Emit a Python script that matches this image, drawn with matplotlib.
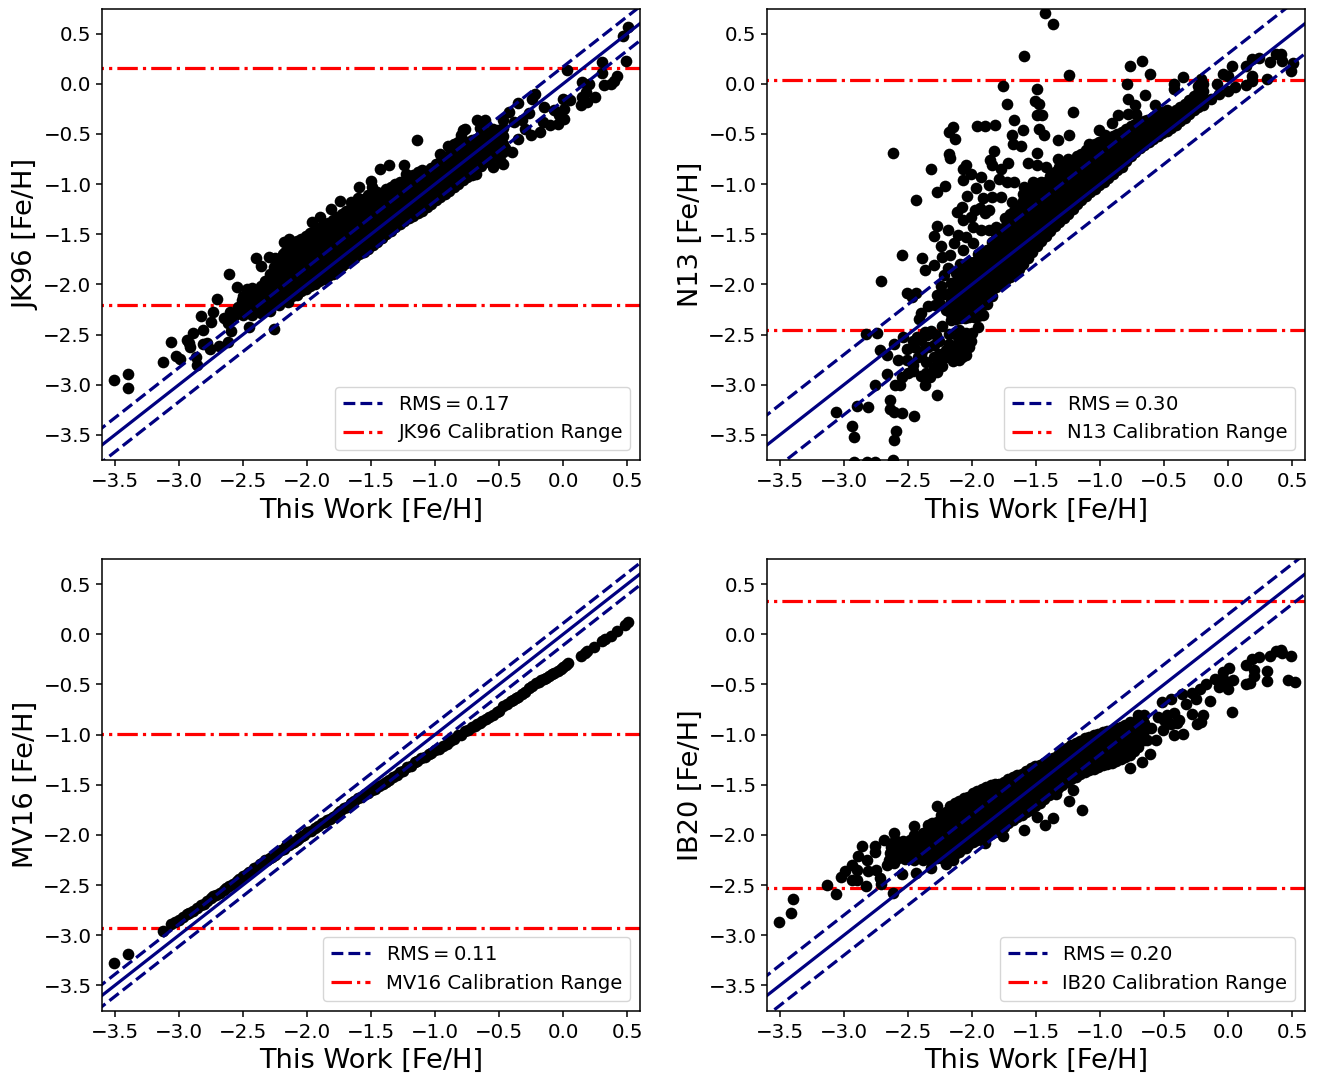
import numpy as np
import matplotlib
matplotlib.use("Agg")
import matplotlib.pyplot as plt

names = ['JK96', 'N13', 'MV16', 'IB20']
rms = [0.17, 0.30, 0.11, 0.20]
cal_low = [-2.21, -2.455, -2.93, -2.53]
cal_high = [0.16, 0.035, -0.99, 0.33]
x_ticks = [-3.5, -3.0, -2.5, -2.0, -1.5, -1.0, -0.5, 0.0, 0.5]
y_ticks = [-3.5, -3.0, -2.5, -2.0, -1.5, -1.0, -0.5, 0.0, 0.5]

# points, thin ones one by one, the solid clouds column by column
jk96_sparse = [(-3.51,-2.95),(-3.40,-2.89),(-3.40,-3.03),(-3.12,-2.77),(-3.06,-2.57),(-3.02,-2.71),(-2.99,-2.74),
    (-2.94,-2.55),(-2.89,-2.48),(-2.91,-2.62),(-2.92,-2.58),(-2.86,-2.80),(-2.83,-2.31),(-2.81,-2.45),(-2.81,-2.59),(-2.87,-2.72),(-2.78,-2.58),
    (-2.75,-2.37),(-2.76,-2.64),(-2.73,-2.27),(-2.70,-2.15),(-2.69,-2.61),(-2.62,-2.57),(-2.61,-1.90),(-2.59,-2.46),
    (-2.65,-2.33),(-2.62,-2.38),(-2.60,-2.27),(-2.57,-2.31),(-2.54,-2.23),(-2.51,-2.16),(-2.55,-2.03),(-2.47,-2.05),
    (-2.40,-1.74),(-2.45,-2.42),(-2.26,-2.44),(-2.36,-1.82),(-2.30,-1.73),(-2.25,-1.74),(-2.18,-1.58),(-2.14,-1.55),
    (-2.17,-1.68),(-1.96,-1.38),(-1.90,-1.33),(-1.81,-1.25),(-1.74,-1.17),(-1.66,-1.18),(-1.60,-1.14),(-1.59,-1.03),(-1.49,-1.03),(-1.33,-1.03),
    (-1.50,-0.97),(-1.43,-0.85),(-1.36,-0.81),(-1.24,-0.81),(-1.23,-0.90),(-1.14,-0.56),(-0.96,-0.70),(-0.90,-0.62),
    (-0.77,-0.45),(-0.78,-0.46),(-0.80,-0.51),(-0.67,-0.36),(-0.61,-0.36),(-0.65,-0.44),(-0.55,-0.45),(-0.42,-0.28),(-0.35,-0.19),
    (-0.22,-0.10),(-0.24,-0.15),(-0.15,-0.23),(-0.27,-0.29),(-0.38,-0.38),(-0.32,-0.36),(-0.25,-0.51),(-0.35,-0.55),
    (-0.30,-0.45),(-0.45,-0.64),(-0.40,-0.68),(-0.49,-0.76),(-0.47,-0.80),(-0.55,-0.83),
    (-0.18,-0.48),(-0.16,-0.38),(-0.10,-0.41),(-0.04,-0.40),(0.01,-0.35),(0.01,-0.25),(-0.07,-0.26),(-0.03,-0.31),(0.05,-0.16),(0.00,-0.15),
    (0.14,-0.21),(0.19,-0.18),(0.15,-0.13),(0.25,-0.13),(0.18,-0.08),(0.20,0.00),(0.15,0.02),(0.32,-0.01),(0.37,0.00),(0.40,0.03),(0.42,0.08),
    (0.03,0.14),(0.30,0.11),(0.30,0.22),(0.49,0.23),(0.47,0.48),(0.51,0.57)]
jk96_columns = [
    (-2.50, [-2.30,-2.21,-2.12]), (-2.43, [-2.30,-2.21,-2.12,-2.04]), (-2.36, [-2.28,-2.19,-2.10,-2.02]),
    (-2.29, [-2.26,-2.17,-2.08,-1.99,-1.90]), (-2.22, [-2.21,-2.12,-2.03,-1.94,-1.85,-1.76]),
    (-2.15, [-2.18,-2.09,-2.00,-1.91,-1.82,-1.73,-1.64]), (-2.08, [-2.11,-2.02,-1.93,-1.84,-1.75,-1.66,-1.57]),
    (-2.01, [-2.05,-1.96,-1.87,-1.78,-1.69,-1.60,-1.52]), (-1.94, [-2.00,-1.91,-1.82,-1.73,-1.64,-1.55,-1.46]),
    (-1.87, [-1.95,-1.86,-1.77,-1.68,-1.59,-1.50,-1.41]), (-1.80, [-1.90,-1.81,-1.72,-1.63,-1.54,-1.45,-1.36]),
    (-1.73, [-1.82,-1.73,-1.64,-1.55,-1.46,-1.37,-1.30]), (-1.66, [-1.76,-1.67,-1.58,-1.49,-1.40,-1.31,-1.24]),
    (-1.59, [-1.70,-1.61,-1.52,-1.43,-1.34,-1.25,-1.20]), (-1.52, [-1.65,-1.56,-1.47,-1.38,-1.29,-1.20,-1.11]),
    (-1.45, [-1.58,-1.49,-1.40,-1.31,-1.22,-1.13,-1.08]), (-1.38, [-1.50,-1.41,-1.32,-1.23,-1.14,-1.05]),
    (-1.31, [-1.43,-1.34,-1.25,-1.16,-1.07,-1.00]), (-1.24, [-1.37,-1.28,-1.19,-1.10,-1.01]),
    (-1.17, [-1.32,-1.23,-1.14,-1.05,-0.96,-0.91]), (-1.10, [-1.27,-1.18,-1.09,-1.00,-0.91,-0.86]),
    (-1.03, [-1.20,-1.11,-1.02,-0.93,-0.84]), (-0.96, [-1.13,-1.04,-0.95,-0.86,-0.78]),
    (-0.89, [-1.07,-0.98,-0.89,-0.80,-0.71]), (-0.82, [-1.00,-0.91,-0.82,-0.73,-0.64,-0.58]),
    (-0.75, [-0.93,-0.84,-0.75,-0.66,-0.58]), (-0.68, [-0.90,-0.82,-0.73,-0.64,-0.55]),
    (-0.61, [-0.78,-0.70,-0.62,-0.54,-0.48]), (-0.54, [-0.72,-0.64,-0.55,-0.50]),
    (-0.47, [-0.68,-0.60,-0.52,-0.44,-0.36]),
]
jk96_columns_b = [
    (-2.465, [-2.25,-2.16,-2.08]), (-2.395, [-2.25,-2.16,-2.07]), (-2.325, [-2.24,-2.15,-2.06,-1.97]),
    (-2.255, [-2.19,-2.10,-2.01,-1.92,-1.83]), (-2.185, [-2.15,-2.06,-1.97,-1.88,-1.79,-1.70]),
    (-2.115, [-2.12,-2.03,-1.94,-1.85,-1.76,-1.67,-1.60]), (-2.045, [-2.07,-1.98,-1.89,-1.80,-1.71,-1.62,-1.55]),
    (-1.975, [-2.02,-1.93,-1.84,-1.75,-1.66,-1.57,-1.49]), (-1.905, [-1.97,-1.88,-1.79,-1.70,-1.61,-1.52,-1.44]),
    (-1.835, [-1.92,-1.83,-1.74,-1.65,-1.56,-1.47,-1.39]), (-1.765, [-1.86,-1.77,-1.68,-1.59,-1.50,-1.41,-1.33]),
    (-1.695, [-1.79,-1.70,-1.61,-1.52,-1.43,-1.34,-1.27]), (-1.625, [-1.73,-1.64,-1.55,-1.46,-1.37,-1.28,-1.22]),
    (-1.555, [-1.68,-1.59,-1.50,-1.41,-1.32,-1.23,-1.15]), (-1.485, [-1.61,-1.52,-1.43,-1.34,-1.25,-1.16,-1.09]),
    (-1.415, [-1.54,-1.45,-1.36,-1.27,-1.18,-1.09]), (-1.345, [-1.47,-1.38,-1.29,-1.20,-1.11,-1.03]),
    (-1.275, [-1.40,-1.31,-1.22,-1.13,-1.04,-0.98]), (-1.205, [-1.34,-1.25,-1.16,-1.07,-0.98,-0.93]),
    (-1.135, [-1.29,-1.20,-1.11,-1.02,-0.93,-0.88]), (-1.065, [-1.23,-1.14,-1.05,-0.96,-0.87]),
    (-0.995, [-1.16,-1.07,-0.98,-0.89,-0.80]), (-0.925, [-1.10,-1.01,-0.92,-0.83,-0.74]),
    (-0.855, [-1.03,-0.94,-0.85,-0.76,-0.67,-0.60]), (-0.785, [-0.96,-0.87,-0.78,-0.69,-0.60]),
    (-0.715, [-0.91,-0.83,-0.74,-0.65,-0.56]), (-0.645, [-0.82,-0.74,-0.66,-0.58,-0.50]),
    (-0.575, [-0.75,-0.67,-0.59,-0.51]), (-0.505, [-0.70,-0.62,-0.54,-0.46]),
]

n13_sparse = [(-1.43,0.71),(-1.37,0.60),(-1.59,0.28),(-1.24,0.09),(-0.67,0.23),(-0.77,0.18),(-0.61,0.10),(-1.76,-0.02),(-1.49,-0.05),
    (-0.79,0.00),(-0.35,0.07),(-0.42,0.00),(-0.42,-0.05),(-0.78,-0.15),(-0.65,-0.11),(-1.73,-0.20),(-1.51,-0.17),(-1.48,-0.20),
    (-1.21,-0.28),(-1.49,-0.31),(-1.45,-0.31),(-1.67,-0.36),(-1.96,-0.42),(-1.90,-0.42),(-1.82,-0.41),(-2.15,-0.43),(-2.18,-0.48),
    (-2.13,-0.55),(-1.60,-0.46),(-1.48,-0.45),(-1.44,-0.51),(-1.69,-0.51),(-1.68,-0.60),(-1.62,-0.62),(-1.33,-0.56),(-1.24,-0.51),
    (-2.62,-0.69),(-2.18,-0.70),(-2.17,-0.74),(-1.83,-0.67),(-1.49,-0.69),(-1.86,-0.76),(-1.84,-0.81),(-1.72,-0.79),(-1.77,-0.85),
    (-1.56,-0.79),(-2.32,-0.85),(-2.05,-0.81),(-2.07,-0.85),(-2.01,-0.90),(-2.07,-0.96),(-1.93,-0.93),(-1.87,-1.01),(-1.73,-0.98),
    (-1.67,-0.98),(-1.79,-0.95),(-2.21,-1.02),(-2.27,-1.08),(-1.97,-1.04),(-2.04,-1.12),(-2.44,-1.16),(-1.91,-1.14),(-1.84,-1.13),
    (-1.77,-1.13),(-2.08,-1.23),(-2.12,-1.28),(-1.98,-1.26),(-1.94,-1.24),(-2.07,-1.36),(-2.01,-1.33),(-1.87,-1.26),(-2.27,-1.42),
    (-2.19,-1.46),(-2.30,-1.52),(-1.99,-1.43),(-2.11,-1.51),(-2.05,-1.53),(-2.14,-1.59),(-2.24,-1.62),(-1.99,-1.59),(-2.07,-1.66),
    (-2.55,-1.71),(-2.39,-1.74),(-2.23,-1.73),(-2.17,-1.71),(-2.30,-1.81),(-2.37,-1.86),(-2.19,-1.84),(-2.22,-1.91),(-2.71,-1.97),
    (-2.51,-2.09),(-2.44,-2.09),(-2.47,-2.13),(-2.27,-2.11),(-2.34,-2.22),(-2.29,-2.21),(-2.40,-2.28),(-2.41,-2.34),(-2.16,-2.29),
    (-2.83,-2.49),(-2.74,-2.48),(-2.54,-2.52),(-2.61,-2.59),(-2.72,-2.65),(-2.66,-2.70),(-2.51,-2.64),(-2.58,-2.75),(-2.51,-2.75),
    (-2.66,-2.89),(-2.55,-2.92),(-2.60,-3.00),(-2.56,-3.00),(-2.76,-3.00),(-2.37,-3.00),(-2.27,-3.10),(-2.64,-3.15),(-2.90,-3.21),
    (-2.81,-3.22),(-3.06,-3.27),(-2.64,-3.24),(-2.61,-3.27),(-2.55,-3.28),(-2.45,-3.31),(-2.94,-3.41),(-2.92,-3.52),(-2.59,-3.46),
    (-2.61,-3.55),(-2.92,-3.77),(-2.82,-3.77),(-2.76,-3.77),(-2.62,-3.75),
    (-2.46,-2.56),(-2.39,-2.66),(-2.46,-2.86),(-2.36,-2.77),(-2.40,-2.91),(-2.33,-2.92),(-2.27,-2.87),(-2.23,-2.81),(-2.26,-2.69),
    (-2.34,-2.62),(-2.15,-2.76),(-2.18,-2.59),(-2.26,-2.56),(-2.01,-2.56),(-2.09,-2.64),(-2.13,-2.69),(-2.32,-2.46),(-2.23,-2.41),
    (-2.37,-2.47),(-2.43,-2.52),(-2.11,-2.52),(-2.18,-2.49),(-2.20,-2.65),(-2.30,-2.72),(-2.40,-2.70),(-2.10,-2.75),
    (-2.05,-2.48),(-2.02,-2.62),(-2.06,-2.56),(-2.12,-2.60),(-2.08,-2.72),(-2.05,-2.70),(-2.16,-2.62),(-2.20,-2.72),(-2.15,-2.68),
    (-2.00,-2.48),(-1.95,-2.42),(-2.25,-2.76),(-2.30,-2.82),(-2.10,-2.45),(-2.30,-2.60),(-2.35,-2.50),(-2.40,-2.55),(-2.28,-2.50),
    (-2.45,-2.62),(-2.42,-2.72),(-2.36,-2.88),(-2.50,-2.88),(-2.46,-2.80),(-2.22,-2.10),(-2.25,-2.20),(-2.20,-2.25),(-2.24,-2.02),
    (-0.21,0.05),(-0.04,0.10),(0.03,0.18),(0.00,0.08),(-0.09,0.00),(0.05,-0.03),(-0.07,-0.10),(0.00,-0.07),(0.14,0.18),(0.19,0.25),
    (0.24,0.26),(0.37,0.30),(0.41,0.30),(0.33,0.22),(0.42,0.23),(0.51,0.21),(0.49,0.13),(0.19,0.08),(0.14,-0.01),(0.19,0.03),(0.30,0.05),(-0.13,-0.15),
    (-0.86,-0.31),(-0.78,-0.30),(-0.73,-0.21),(-0.57,-0.21),(-0.72,-0.30),(-0.91,-0.39),(-0.63,-0.36),(-0.51,-0.31),(-1.01,-0.46),
    (-0.96,-0.51),(-1.09,-0.60),(-1.33,-0.75),(-1.49,-0.81),(-1.42,-0.83),(-1.52,-0.98),(-1.59,-1.03),(-1.69,-1.18),(-1.90,-1.29),
    (-1.87,-1.46),(-1.93,-1.46),(-1.81,-1.43)]
n13_columns = [
    (-2.16, [-2.35,-2.26,-2.17,-2.08,-1.99]), (-2.09, [-2.33,-2.24,-2.15,-2.06,-1.97,-1.88,-1.80]),
    (-2.02, [-2.32,-2.23,-2.14,-2.05,-1.96,-1.87,-1.78]), (-1.95, [-2.31,-2.22,-2.13,-2.04,-1.95,-1.86,-1.77,-1.70]),
    (-1.88, [-2.20,-2.11,-2.02,-1.93,-1.84,-1.75,-1.66]), (-1.81, [-2.03,-1.94,-1.85,-1.76,-1.67,-1.58,-1.50]),
    (-1.74, [-1.97,-1.88,-1.79,-1.70,-1.61,-1.52,-1.43,-1.34]), (-1.67, [-1.90,-1.81,-1.72,-1.63,-1.54,-1.45,-1.36,-1.27]),
    (-1.60, [-1.80,-1.71,-1.62,-1.53,-1.44,-1.35,-1.26,-1.17,-1.10]), (-1.53, [-1.68,-1.59,-1.50,-1.41,-1.32,-1.23,-1.14,-1.05]),
    (-1.46, [-1.57,-1.48,-1.39,-1.30,-1.21,-1.12,-1.03,-0.98]), (-1.39, [-1.47,-1.38,-1.29,-1.20,-1.11,-1.02,-0.92]),
    (-1.32, [-1.38,-1.29,-1.20,-1.11,-1.02,-0.93,-0.83]), (-1.25, [-1.30,-1.21,-1.12,-1.03,-0.94,-0.85,-0.75]),
    (-1.18, [-1.20,-1.11,-1.02,-0.93,-0.84,-0.72]), (-1.11, [-1.12,-1.03,-0.94,-0.85,-0.76,-0.66]),
    (-1.04, [-1.05,-0.96,-0.87,-0.78,-0.69,-0.60]), (-0.97, [-0.98,-0.89,-0.80,-0.71,-0.62,-0.55]),
    (-0.90, [-0.90,-0.81,-0.72,-0.63,-0.52]), (-0.83, [-0.83,-0.74,-0.65,-0.56,-0.48]),
    (-0.76, [-0.72,-0.63,-0.54,-0.42]), (-0.69, [-0.64,-0.55,-0.46,-0.38]), (-0.62, [-0.58,-0.50,-0.43,-0.36]),
    (-0.55, [-0.52,-0.44,-0.36,-0.30]), (-0.48, [-0.47,-0.40,-0.32,-0.26]), (-0.41, [-0.41,-0.33,-0.26]),
    (-0.34, [-0.34,-0.26,-0.20]), (-0.27, [-0.26,-0.19,-0.12]), (-0.20, [-0.21,-0.14,-0.07,0.00]),
]
n13_columns_b = [
    (-2.125, [-2.34,-2.25,-2.16,-2.07,-1.98,-1.89]), (-2.055, [-2.33,-2.24,-2.15,-2.06,-1.97,-1.88,-1.80]),
    (-1.985, [-2.32,-2.23,-2.14,-2.05,-1.96,-1.87,-1.78]), (-1.915, [-2.30,-2.21,-2.12,-2.03,-1.94,-1.85,-1.76,-1.68]),
    (-1.845, [-2.12,-2.03,-1.94,-1.85,-1.76,-1.67,-1.58]), (-1.775, [-2.00,-1.91,-1.82,-1.73,-1.64,-1.55,-1.46]),
    (-1.705, [-1.93,-1.84,-1.75,-1.66,-1.57,-1.48,-1.39,-1.30]), (-1.635, [-1.85,-1.76,-1.67,-1.58,-1.49,-1.40,-1.31,-1.22]),
    (-1.565, [-1.74,-1.65,-1.56,-1.47,-1.38,-1.29,-1.20,-1.11]), (-1.495, [-1.62,-1.53,-1.44,-1.35,-1.26,-1.17,-1.08,-1.00]),
    (-1.425, [-1.52,-1.43,-1.34,-1.25,-1.16,-1.07,-0.98]), (-1.355, [-1.42,-1.33,-1.24,-1.15,-1.06,-0.97,-0.88]),
    (-1.285, [-1.34,-1.25,-1.16,-1.07,-0.98,-0.89,-0.80]), (-1.215, [-1.25,-1.16,-1.07,-0.98,-0.89,-0.78]),
    (-1.145, [-1.16,-1.07,-0.98,-0.89,-0.80,-0.70]), (-1.075, [-1.08,-0.99,-0.90,-0.81,-0.72,-0.64]),
    (-1.005, [-1.01,-0.92,-0.83,-0.74,-0.65,-0.58]), (-0.935, [-0.94,-0.85,-0.76,-0.67,-0.58]),
    (-0.865, [-0.86,-0.77,-0.68,-0.59,-0.50]), (-0.795, [-0.77,-0.69,-0.60,-0.52,-0.45]),
    (-0.725, [-0.68,-0.59,-0.50,-0.40]), (-0.655, [-0.61,-0.53,-0.45,-0.37]), (-0.585, [-0.55,-0.47,-0.40,-0.33]),
    (-0.515, [-0.49,-0.42,-0.34,-0.28]), (-0.445, [-0.44,-0.37,-0.29]), (-0.375, [-0.37,-0.30,-0.23]),
    (-0.305, [-0.30,-0.23,-0.16]), (-0.235, [-0.23,-0.16,-0.09,-0.02]),
]

mv16_sparse = [(-3.51,-3.28),(-3.40,-3.19),(-3.12,-2.96),(-3.06,-2.89),(-3.03,-2.87),(-3.00,-2.85),(-2.94,-2.79),(-2.92,-2.78),(-2.89,-2.76),
    (-2.83,-2.70),(-2.80,-2.69),(-2.75,-2.63),(-2.71,-2.60),(-2.65,-2.55),(-2.61,-2.51),(-2.58,-2.49),(-2.55,-2.46),(-2.50,-2.41),(-2.45,-2.37),(-2.41,-2.33),
    (-2.37,-2.29),(-2.33,-2.25),(-2.29,-2.23),(-2.25,-2.20),(-2.20,-2.15),(-2.16,-2.11),(-2.12,-2.08),(-2.08,-2.05),(-2.04,-2.01),(-2.00,-1.97),
    (-1.94,-1.93),(-1.88,-1.88),(-1.84,-1.85),(-1.80,-1.82),(-1.76,-1.78),(-1.71,-1.73),(-1.66,-1.68),(-1.60,-1.63),(-1.55,-1.59),(-1.49,-1.55),
    (-1.44,-1.51),(-1.38,-1.47),(-1.33,-1.42),(-1.27,-1.37),(-1.22,-1.32),(-1.16,-1.27),(-1.11,-1.23),(-1.05,-1.19),(-1.00,-1.15),(-0.94,-1.11),
    (-0.88,-1.06),(-0.82,-1.00),(-0.77,-0.96),(-0.71,-0.92),(-0.67,-0.89),(-0.63,-0.86),(-0.58,-0.82),(-0.52,-0.77),(-0.47,-0.72),(-0.41,-0.67),
    (-0.37,-0.64),(-0.32,-0.60),(-0.27,-0.54),(-0.21,-0.49),(-0.17,-0.46),(-0.13,-0.44),(-0.09,-0.40),(-0.04,-0.37),(0.00,-0.33),(0.04,-0.29),
    (0.14,-0.22),(0.17,-0.19),(0.19,-0.17),(0.24,-0.13),(0.30,-0.07),(0.33,-0.05),(0.37,-0.02),(0.42,0.03),(0.48,0.09),(0.51,0.12)]
mv16_sparse_b = [(-2.97,-2.82),(-2.86,-2.73),(-2.78,-2.66),(-2.73,-2.61),(-2.68,-2.58),(-2.63,-2.53),(-2.53,-2.44),(-2.47,-2.39),(-2.39,-2.32),
    (-2.35,-2.28),(-2.31,-2.25),(-2.27,-2.22),(-2.23,-2.18),(-2.18,-2.14),(-2.14,-2.10),(-2.10,-2.07),(-2.06,-2.03),(-2.02,-2.00),(-1.97,-1.96),
    (-1.91,-1.91),(-1.86,-1.87),(-1.82,-1.84),(-1.78,-1.81),(-1.74,-1.76),(-1.69,-1.72),(-1.63,-1.66),(-1.58,-1.62),(-1.52,-1.58),(-1.47,-1.54),
    (-1.41,-1.49),(-1.36,-1.45),(-1.30,-1.40),(-1.25,-1.36),(-1.19,-1.31),(-1.14,-1.26),(-1.08,-1.22),(-1.03,-1.18),(-0.97,-1.14),(-0.91,-1.09),
    (-0.85,-1.04),(-0.80,-1.00),(-0.74,-0.95),(-0.69,-0.91),(-0.65,-0.88),(-0.60,-0.84),(-0.55,-0.80),(-0.50,-0.76),(-0.44,-0.70),(-0.39,-0.66),
    (-0.35,-0.63),(-0.30,-0.58),(-0.24,-0.52),(-0.19,-0.48),(-0.15,-0.45),(-0.11,-0.42),(-0.07,-0.39),(-0.02,-0.35),(0.02,-0.31)]

ib20_sparse = [(-3.51,-2.87),(-3.41,-2.78),(-3.40,-2.64),(-3.13,-2.50),(-3.06,-2.59),(-3.02,-2.42),(-2.99,-2.36),(-2.94,-2.30),(-2.94,-2.45),
    (-2.90,-2.35),(-2.90,-2.45),(-2.83,-2.51),(-2.89,-2.21),(-2.86,-2.11),(-2.82,-2.25),(-2.76,-2.11),(-2.76,-2.17),(-2.81,-2.36),(-2.75,-2.35),
    (-2.72,-2.43),(-2.71,-2.49),(-2.69,-2.05),(-2.66,-2.30),(-2.62,-2.58),(-2.61,-1.98),(-2.64,-2.18),(-2.61,-2.28),(-2.60,-2.05),(-2.54,-2.06),
    (-2.63,-2.12),(-2.58,-2.15),(-2.55,-2.18),(-2.58,-2.23),(-2.65,-2.25),(-2.50,-2.10),(-2.55,-2.12),
    (-2.55,-2.39),(-2.44,-2.38),(-2.45,-1.91),(-2.32,-2.33),(-2.27,-1.71),(-2.15,-2.25),(-2.20,-2.29),(-2.05,-2.13),(-1.90,-2.08),(-1.76,-2.01),(-1.59,-1.95),
    (-1.43,-1.90),(-1.37,-1.83),(-1.49,-1.82),(-1.14,-1.75),(-1.24,-1.66),(-1.34,-1.59),(-1.21,-1.55),(-0.77,-1.33),(-0.67,-1.27),(-0.61,-1.19),
    (-0.56,-1.05),(-0.63,-1.05),(-0.42,-1.00),(-0.35,-0.99),(-0.51,-0.95),(0.03,-0.77),(-0.21,-0.87),(-0.24,-0.89),(-0.20,-0.80),(-0.28,-0.79),
    (-0.38,-0.85),(-0.45,-0.89),(-0.14,-0.67),(-0.25,-0.65),(-0.33,-0.70),(-0.45,-0.65),(-0.52,-0.68),(-0.36,-0.60),(-0.28,-0.59),(-0.17,-0.50),
    (-0.22,-0.55),(-0.10,-0.45),(0.00,-0.55),(-0.07,-0.53),(-0.04,-0.38),(0.01,-0.34),(0.04,-0.46),(-0.03,-0.46),(0.14,-0.50),(0.17,-0.49),
    (0.14,-0.31),(0.20,-0.36),(0.20,-0.42),(0.19,-0.25),(0.24,-0.23),(0.30,-0.37),(0.30,-0.47),(0.33,-0.22),(0.37,-0.17),(0.41,-0.16),(0.42,-0.19),
    (0.49,-0.22),(0.47,-0.46),(0.52,-0.48),(-0.55,-0.82),(-0.48,-0.80),(-0.42,-0.78),(-0.40,-0.88),(-0.60,-0.93),(-0.50,-0.85),(-0.70,-0.80)]
ib20_columns = [
    (-2.52, [-2.24,-2.15]), (-2.45, [-2.25,-2.16,-2.07,-2.00]), (-2.38, [-2.25,-2.16,-2.07,-1.98]),
    (-2.31, [-2.23,-2.14,-2.05,-1.96,-1.88]), (-2.24, [-2.23,-2.14,-2.05,-1.96,-1.87,-1.80]),
    (-2.17, [-2.21,-2.12,-2.03,-1.94,-1.85,-1.76,-1.71]), (-2.10, [-2.17,-2.08,-1.99,-1.90,-1.81,-1.72,-1.66]),
    (-2.03, [-2.10,-2.01,-1.92,-1.83,-1.74,-1.65,-1.62]), (-1.96, [-2.05,-1.96,-1.87,-1.78,-1.69,-1.60,-1.56]),
    (-1.89, [-2.01,-1.92,-1.83,-1.74,-1.65,-1.56,-1.52]), (-1.82, [-1.97,-1.88,-1.79,-1.70,-1.61,-1.52,-1.49]),
    (-1.75, [-1.92,-1.83,-1.74,-1.65,-1.56,-1.47]), (-1.68, [-1.85,-1.76,-1.67,-1.58,-1.49,-1.42]),
    (-1.61, [-1.80,-1.71,-1.62,-1.53,-1.44,-1.39]), (-1.54, [-1.75,-1.66,-1.57,-1.48,-1.39,-1.33]),
    (-1.47, [-1.68,-1.59,-1.50,-1.41,-1.32,-1.30]), (-1.40, [-1.60,-1.51,-1.42,-1.33,-1.26]),
    (-1.33, [-1.53,-1.44,-1.35,-1.26,-1.20]), (-1.26, [-1.47,-1.38,-1.29,-1.20,-1.13]),
    (-1.19, [-1.42,-1.33,-1.24,-1.15,-1.08]), (-1.12, [-1.37,-1.28,-1.19,-1.10,-1.03]),
    (-1.05, [-1.34,-1.25,-1.16,-1.07,-1.00]), (-0.98, [-1.30,-1.21,-1.12,-1.03,-0.97]),
    (-0.91, [-1.28,-1.19,-1.10,-1.01,-0.95]), (-0.84, [-1.24,-1.15,-1.06,-0.97,-0.92]),
    (-0.77, [-1.20,-1.11,-1.02,-0.93,-0.87]), (-0.70, [-1.12,-1.03,-0.94,-0.83]), (-0.66, [-1.05,-0.96,-0.88,-0.80]),
]
ib20_columns_b = [
    (-2.485, [-2.22,-2.13,-2.05]), (-2.415, [-2.21,-2.12,-2.03]), (-2.345, [-2.24,-2.15,-2.06,-1.97,-1.90]),
    (-2.275, [-2.23,-2.14,-2.05,-1.96,-1.87]), (-2.205, [-2.22,-2.13,-2.04,-1.95,-1.86,-1.77]),
    (-2.135, [-2.19,-2.10,-2.01,-1.92,-1.83,-1.74,-1.68]), (-2.065, [-2.13,-2.04,-1.95,-1.86,-1.77,-1.68,-1.63]),
    (-1.995, [-2.07,-1.98,-1.89,-1.80,-1.71,-1.62,-1.58]), (-1.925, [-2.03,-1.94,-1.85,-1.76,-1.67,-1.58,-1.54]),
    (-1.855, [-1.99,-1.90,-1.81,-1.72,-1.63,-1.54,-1.50]), (-1.785, [-1.94,-1.85,-1.76,-1.67,-1.58,-1.49]),
    (-1.715, [-1.88,-1.79,-1.70,-1.61,-1.52,-1.44]), (-1.645, [-1.82,-1.73,-1.64,-1.55,-1.46,-1.40]),
    (-1.575, [-1.77,-1.68,-1.59,-1.50,-1.41,-1.36]), (-1.505, [-1.71,-1.62,-1.53,-1.44,-1.35,-1.31]),
    (-1.435, [-1.64,-1.55,-1.46,-1.37,-1.28]), (-1.365, [-1.56,-1.47,-1.38,-1.29,-1.23]),
    (-1.295, [-1.50,-1.41,-1.32,-1.23,-1.16]), (-1.225, [-1.44,-1.35,-1.26,-1.17,-1.10]),
    (-1.155, [-1.39,-1.30,-1.21,-1.12,-1.06]), (-1.085, [-1.35,-1.26,-1.17,-1.08,-1.02]),
    (-1.015, [-1.32,-1.23,-1.14,-1.05,-0.99]), (-0.945, [-1.29,-1.20,-1.11,-1.02,-0.96]),
    (-0.875, [-1.26,-1.17,-1.08,-0.99,-0.93]), (-0.805, [-1.22,-1.13,-1.04,-0.95,-0.90]),
    (-0.735, [-1.16,-1.07,-0.98,-0.89]),
]

panel_sparse = [jk96_sparse, n13_sparse, mv16_sparse + mv16_sparse_b, ib20_sparse]
panel_columns = [jk96_columns + jk96_columns_b, n13_columns + n13_columns_b, [], ib20_columns + ib20_columns_b]

plt.rcParams['axes.linewidth'] = 1.1

fig = plt.figure(figsize=(13.23, 10.74), dpi=100)
lefts = [102, 767, 102, 767]
tops = [8.5, 8.5, 559, 559]

for i in range(4):
    ax = fig.add_axes([lefts[i] / 1323, 1 - (tops[i] + 451.5) / 1074, 538 / 1323, 451.5 / 1074])

    xs = [p[0] for p in panel_sparse[i]]
    ys = [p[1] for p in panel_sparse[i]]
    for col_x, col_y in panel_columns[i]:
        xs += [col_x] * len(col_y)
        ys += col_y

    line_x = np.array([-3.75, 0.75])
    ax.plot(line_x, [cal_low[i]] * 2, color='red', ls='-.', lw=2.3, label=names[i] + ' Calibration Range')
    ax.plot(line_x, [cal_high[i]] * 2, color='red', ls='-.', lw=2.3)
    ax.plot(xs, ys, 'o', color='black', ms=8.4, mew=0)
    ax.plot(line_x, line_x, color='navy', lw=2.3)
    ax.plot(line_x, line_x + rms[i], color='navy', ls='--', lw=2.3, label=r'RMS$=$%.2f' % rms[i])
    ax.plot(line_x, line_x - rms[i], color='navy', ls='--', lw=2.3)

    ax.set_xlim(-3.6, 0.6)
    ax.set_ylim(-3.75, 0.75)
    ax.set_xticks(x_ticks)
    ax.set_yticks(y_ticks)
    ax.tick_params(labelsize=14.3, length=4, width=1.1)
    ax.tick_params(axis='x', pad=4.7)
    ax.set_xlabel('This Work [Fe/H]', fontsize=19.6, labelpad=4.7)
    ax.set_ylabel(names[i] + ' [Fe/H]', fontsize=19.6, labelpad=2.8)

    handles, labels = ax.get_legend_handles_labels()
    ax.legend(handles[::-1], labels[::-1], loc='lower right', fontsize=14.1)

fig.savefig('out.png', dpi=100)
